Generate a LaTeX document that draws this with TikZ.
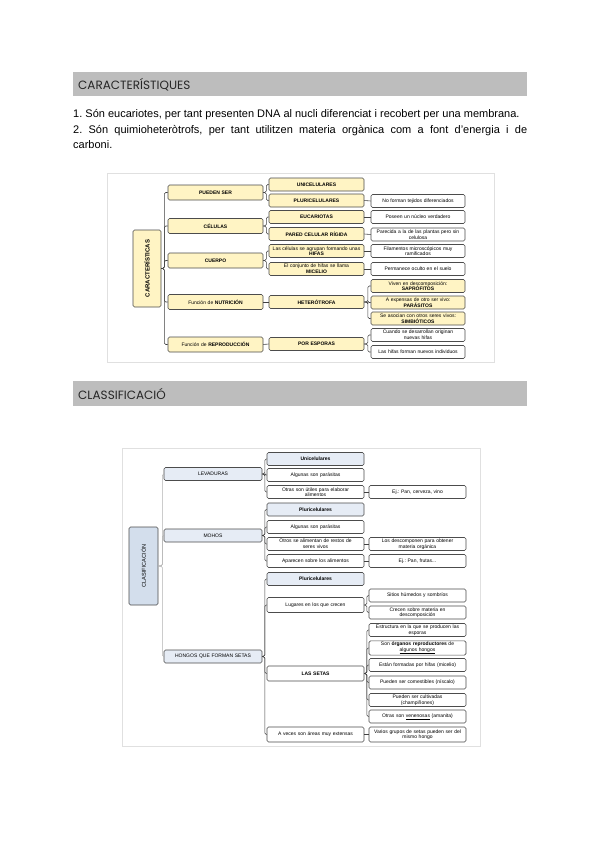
\documentclass[tikz,border=0pt]{standalone}
\usepackage{fontspec}
\setmainfont{Liberation Sans}
\newfontfamily\headfont{Poppins}
\usepackage{xcolor}
\usepackage{tikz}
\definecolor{barGrey}{HTML}{BDBDBD}
\definecolor{paleYellow}{HTML}{FFF4C4}
\definecolor{paleBlue}{HTML}{E6ECF5}
\definecolor{hubBlue}{HTML}{D3DEEC}
\tikzstyle{card} = [draw=black!70, line width=0.6pt, rounded corners=1.5pt, align=center, inner sep=1pt, minimum height=13pt, font=\fontsize{5}{5.6}\selectfont]
\tikzstyle{hub} = [card, rotate=90, minimum width=77pt, minimum height=28pt, font=\fontsize{6}{7}\selectfont\bfseries]
\tikzstyle{yone} = [card, fill=paleYellow, text width=93pt, minimum height=15pt, font=\fontsize{5}{5.6}\selectfont\bfseries]
\tikzstyle{ytwo} = [card, fill=paleYellow, text width=93pt]
\tikzstyle{wthree} = [card, fill=white, text width=92pt]
\tikzstyle{bone} = [card, fill=paleBlue, text width=96pt]
\tikzstyle{wtwo} = [card, fill=white, text width=95pt]
\tikzstyle{link} = [draw=black!75, line width=0.6pt, rounded corners=1.5pt]
\tikzstyle{bar} = [fill=barGrey]

\begin{document}
\frenchspacing
\begin{tikzpicture}[x=1pt, y=-1pt]
    \useasboundingbox[fill=white] (0,0) rectangle (600,848);

    % headings and text
    \fill[bar] (73,72) rectangle (527,96);
    \node[anchor=west, inner sep=0, font=\headfont\fontsize{12}{14}\selectfont, text=black!85] (hcar) at (78,84.5) {CARACTERÍSTIQUES};
    \node[anchor=north west, inner sep=0, text width=454pt, align=justify, font=\fontsize{11}{15.5}\selectfont] (txt) at (73,109.5)
        {1. Són eucariotes, per tant presenten DNA al nucli diferenciat i recobert per una membrana.\par
         2. Són quimioheteròtrofs, per tant utilitzen materia orgànica com a font d’energia i de\linebreak carboni.};
    \fill[bar] (73,381) rectangle (527,406);
    \node[anchor=west, inner sep=0, font=\headfont\fontsize{12}{14}\selectfont, text=black!85] (hcla) at (78,394) {CLASSIFICACIÓ};

    % first map
    \draw[black!12, line width=1pt, fill=white] (107,173) rectangle (494,362);
    \node[hub, fill=paleYellow] (car) at (147,268.5) {CARACTERÍSTICAS};

    \node[yone] (pueden) at (215.5,192.5) {PUEDEN SER};
    \node[yone] (celulas) at (215.5,226) {CÉLULAS};
    \node[yone] (cuerpo) at (215.5,260.5) {CUERPO};
    \node[yone] (nutri) at (215.5,302) {\mdseries Función de \bfseries NUTRICIÓN};
    \node[yone] (repro) at (215.5,344.5) {\mdseries Función de \bfseries REPRODUCCIÓN};

    \node[ytwo] (uni) at (316.5,184.5) {\textbf{UNICELULARES}};
    \node[ytwo] (pluri) at (316.5,200.5) {\textbf{PLURICELULARES}};
    \node[ytwo] (euca) at (316.5,217) {\textbf{EUCARIOTAS}};
    \node[ytwo] (pared) at (316.5,234) {\textbf{PARED CELULAR RÍGIDA}};
    \node[ytwo] (hifas) at (316.5,251) {Las células se agrupan formando unas\\\textbf{HIFAS}};
    \node[ytwo] (micelio) at (316.5,269) {El conjunto de hifas se llama\\\textbf{MICELIO}};
    \node[ytwo] (hetero) at (316.5,302) {\textbf{HETERÓTROFA}};
    \node[ytwo] (esporas) at (316.5,344) {\textbf{POR ESPORAS}};

    \node[wthree] (tejidos) at (418,201) {No forman tejidos diferenciados};
    \node[wthree] (nucleo) at (418,217) {Poseen un núcleo verdadero};
    \node[wthree] (celulosa) at (418,234.5) {Parecida a la de las plantas pero sin\\celulosa};
    \node[wthree] (filam) at (418,251) {Filamentos microscópicos muy\\ramificados};
    \node[wthree] (oculto) at (418,269) {Permanece oculto en el suelo};
    \node[wthree, fill=paleYellow] (sapro) at (418,286) {Viven en descomposición:\\\textbf{SAPRÓFITOS}};
    \node[wthree, fill=paleYellow] (parasi) at (418,302.5) {A expensas de otro ser vivo:\\\textbf{PARÁSITOS}};
    \node[wthree, fill=paleYellow] (simbio) at (418,318.5) {Se asocian con otros seres vivos:\\\textbf{SIMBIÓTICOS}};
    \node[wthree] (nuevas) at (418,335) {Cuando se desarrollan originan\\nuevas hifas};
    \node[wthree] (indiv) at (418,352) {Las hifas forman nuevos individuos};

    \foreach \k in {pueden,celulas,cuerpo,nutri,repro}
        \draw[link] (car.south) -- ++(3,0) |- (\k.west);
    \draw[link] (pueden.east) -- ++(3,0) |- (uni.west);
    \draw[link] (pueden.east) -- ++(3,0) |- (pluri.west);
    \draw[link] (celulas.east) -- ++(3,0) |- (euca.west);
    \draw[link] (celulas.east) -- ++(3,0) |- (pared.west);
    \draw[link] (cuerpo.east) -- ++(3,0) |- (hifas.west);
    \draw[link] (cuerpo.east) -- ++(3,0) |- (micelio.west);
    \draw[link] (nutri.east) -- (hetero.west);
    \draw[link] (repro.east) -- (esporas.west);
    \draw[link] (pluri.east) -- (tejidos.west);
    \draw[link] (euca.east) -- (nucleo.west);
    \draw[link] (pared.east) -- (celulosa.west);
    \draw[link] (hifas.east) -- (filam.west);
    \draw[link] (micelio.east) -- (oculto.west);
    \foreach \k in {sapro,parasi,simbio}
        \draw[link] (hetero.east) -- ++(3.5,0) |- (\k.west);
    \foreach \k in {nuevas,indiv}
        \draw[link] (esporas.east) -- ++(3.5,0) |- (\k.west);

    % second map
    \draw[black!12, line width=1pt, fill=white] (122,448) rectangle (480,746);
    \node[hub, fill=hubBlue, minimum width=78pt, minimum height=29pt, font=\fontsize{5.6}{6.5}\selectfont] (clas) at (143.5,566) {CLASIFICACIÓN};

    \node[bone] (leva) at (213,474) {LEVADURAS};
    \node[bone] (mohos) at (213,535.5) {MOHOS};
    \node[bone] (setas) at (213,656.5) {HONGOS QUE FORMAN SETAS};

    \node[wtwo, fill=paleBlue] (unib) at (315.5,459) {\textbf{Unicelulares}};
    \node[wtwo] (parasa) at (315.5,475) {Algunas son parásitas};
    \node[wtwo] (utiles) at (315.5,492) {Otras son útiles para elaborar\\alimentos};
    \node[wtwo, fill=paleBlue] (plurib) at (315.5,509.5) {\textbf{Pluricelulares}};
    \node[wtwo] (parasb) at (315.5,527) {Algunas son parásitas};
    \node[wtwo] (restos) at (315.5,544) {Otros se alimentan de restos de\\seres vivos};
    \node[wtwo] (aparec) at (315.5,561) {Aparecen sobre los alimentos};
    \node[wtwo, fill=paleBlue] (pluric) at (315.5,579) {\textbf{Pluricelulares}};
    \node[wtwo, minimum height=15pt] (lugares) at (315.5,605) {Lugares en los que crecen};
    \node[wtwo, minimum height=15pt] (lasetas) at (315.5,673.5) {\textbf{LAS SETAS}};
    \node[wtwo, minimum height=15pt] (extens) at (315.5,734.5) {A veces son áreas muy extensas};

    \node[wtwo] (ejpan) at (417.5,492) {Ej.: Pan, cerveza, vino};
    \node[wtwo] (descomp) at (417.5,544) {Los descomponen para obtener\\materia orgánica};
    \node[wtwo] (frutas) at (417.5,561) {Ej.: Pan, frutas...};
    \node[wtwo] (humedos) at (417.5,595.5) {Sitios húmedos y sombríos};
    \node[wtwo] (materia) at (417.5,612.5) {Crecen sobre materia en\\descomposición};
    \node[wtwo] (estruc) at (417.5,630) {Estructura en la que se producen las\\esporas};
    \node[wtwo] (organos) at (417.5,648) {Son \textbf{órganos reproductores} de\\\underline{algunos hongos}};
    \node[wtwo] (formad) at (417.5,665) {Están formadas por hifas (micelio)};
    \node[wtwo] (comest) at (417.5,682.5) {Pueden ser comestibles (níscalo)};
    \node[wtwo] (cultiv) at (417.5,700) {Pueden ser cultivadas\\(champiñones)};
    \node[wtwo] (venen) at (417.5,716.5) {Otras son \underline{venenosas} (amanita)};
    \node[wtwo, minimum height=15pt] (mismo) at (417.5,734.5) {Varios grupos de setas pueden ser del\\mismo hongo};

    \foreach \k in {leva,mohos,setas}
        \draw[link, draw=black!30] (clas.south) -- ++(4,0) |- (\k.west);
    \foreach \k in {unib,parasa,utiles}
        \draw[link] (leva.east) -- ++(2.5,0) |- (\k.west);
    \foreach \k in {plurib,parasb,restos,aparec}
        \draw[link] (mohos.east) -- ++(2.5,0) |- (\k.west);
    \foreach \k in {pluric,lugares,lasetas,extens}
        \draw[link] (setas.east) -- ++(2.5,0) |- (\k.west);
    \draw[link] (utiles.east) -- (ejpan.west);
    \draw[link] (restos.east) -- (descomp.west);
    \draw[link] (aparec.east) -- (frutas.west);
    \draw[link] (extens.east) -- (mismo.west);
    \foreach \k in {humedos,materia}
        \draw[link] (lugares.east) -- ++(2.5,0) |- (\k.west);
    \foreach \k in {estruc,organos,formad,comest,cultiv,venen}
        \draw[link] (lasetas.east) -- ++(2.5,0) |- (\k.west);
\end{tikzpicture}
\end{document}
